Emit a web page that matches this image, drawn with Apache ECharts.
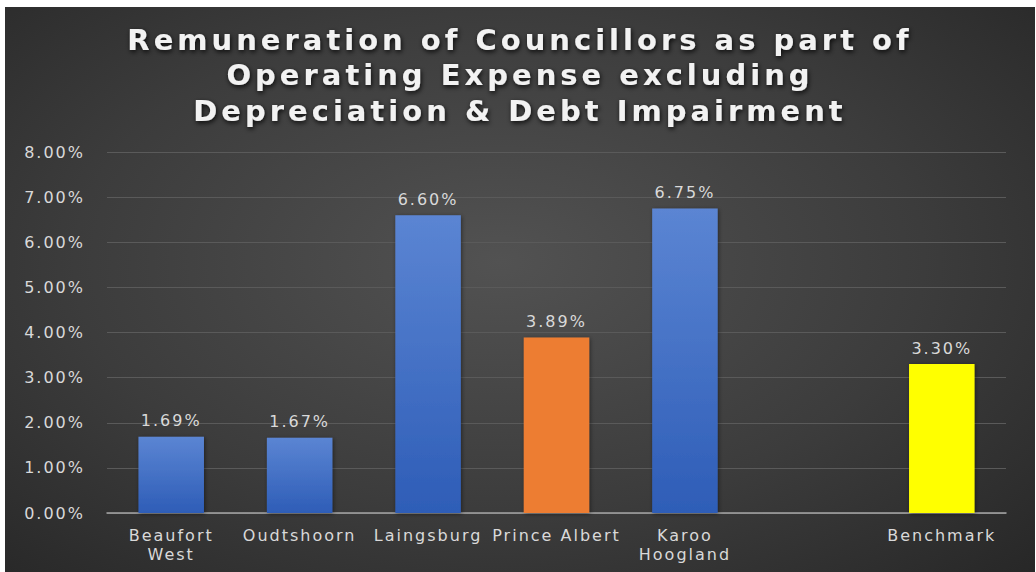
<!DOCTYPE html>
<html>
<head>
<meta charset="utf-8">
<script src="https://cdn.jsdelivr.net/npm/echarts@6/dist/echarts.min.js"></script>
<style>
  html, body { margin: 0; padding: 0; background: #ffffff; }
  #chart {
    position: absolute; left: 5px; top: 7px; width: 1030px; height: 565px;
    background: radial-gradient(ellipse 75% 80% at 48% 45%, #525252 0%, #3c3c3c 55%, #262626 100%);
  }
  /* spaced-out lettering for every text element */
  #chart svg text { letter-spacing: 2px; }
  #chart svg text.ttl { letter-spacing: 4px; }
</style>
</head>
<body>
<div id="chart"></div>
<script>
// Municipalities compared against the benchmark (blank slot keeps a gap before it)
const categories = ['Beaufort\nWest', 'Oudtshoorn', 'Laingsburg', 'Prince Albert', 'Karoo\nHoogland', '', 'Benchmark'];
// Remuneration of councillors, % of operating expense
const values = [1.69, 1.67, 6.60, 3.89, 6.75, null, 3.30];
const yTicks = { min: 0, max: 8, interval: 1 };
const titleLines = ['Remuneration of Councillors as part of', 'Operating Expense excluding', 'Depreciation & Debt Impairment'];

const blueFill = new echarts.graphic.LinearGradient(0, 0, 0, 1, [
  { offset: 0, color: '#5b85d3' },
  { offset: 1, color: '#2e5db7' }
]);
const specialFill = { 'Prince Albert': '#ed7d31', 'Benchmark': '#ffff00' };

const barData = values.map((v, i) => {
  const fill = specialFill[categories[i]] || blueFill;
  return { value: v, itemStyle: { color: fill } };
});

const labelFont = { color: '#d9d9d9', fontFamily: 'DejaVu Sans', fontSize: 16 };

const chart = echarts.init(document.getElementById('chart'), null, { renderer: 'svg' });
chart.setOption({
  backgroundColor: 'transparent',
  animation: false,
  title: {
    text: titleLines.join('\n'),
    left: 'center',
    top: 15,
    padding: 0,
    textStyle: {
      fontFamily: 'DejaVu Sans',
      fontWeight: 'bold',
      fontSize: 29,
      lineHeight: 35.5,
      color: '#f2f2f2',
      textShadowColor: 'rgba(0,0,0,0.85)',
      textShadowBlur: 5,
      textShadowOffsetX: 1,
      textShadowOffsetY: 2
    }
  },
  grid: { left: 102, right: 29, top: 145, bottom: 59 },
  xAxis: {
    type: 'category',
    data: categories,
    axisLine: { lineStyle: { color: '#a6a6a6', width: 1.5 } },
    axisTick: { show: false },
    axisLabel: Object.assign({ lineHeight: 19, margin: 13, interval: 0 }, labelFont)
  },
  yAxis: {
    type: 'value',
    min: yTicks.min,
    max: yTicks.max,
    interval: yTicks.interval,
    axisLine: { show: false },
    axisTick: { show: false },
    splitLine: { lineStyle: { color: '#5a5a5a', width: 1 } },
    axisLabel: Object.assign({ margin: 22, formatter: v => v.toFixed(2) + '%' }, labelFont)
  },
  series: [{
    type: 'bar',
    data: barData,
    barCategoryGap: '49%',
    itemStyle: {
      shadowColor: 'rgba(0,0,0,0.45)',
      shadowBlur: 4,
      shadowOffsetX: 1,
      shadowOffsetY: 1
    },
    label: Object.assign({
      show: true,
      position: 'top',
      distance: 8,
      formatter: p => p.value == null ? '' : p.value.toFixed(2) + '%'
    }, labelFont)
  }]
});

// wider tracking for the title lines
document.querySelectorAll('#chart svg text').forEach(t => {
  if (titleLines.some(l => t.textContent.indexOf(l) >= 0)) t.classList.add('ttl');
});
</script>
</body>
</html>
